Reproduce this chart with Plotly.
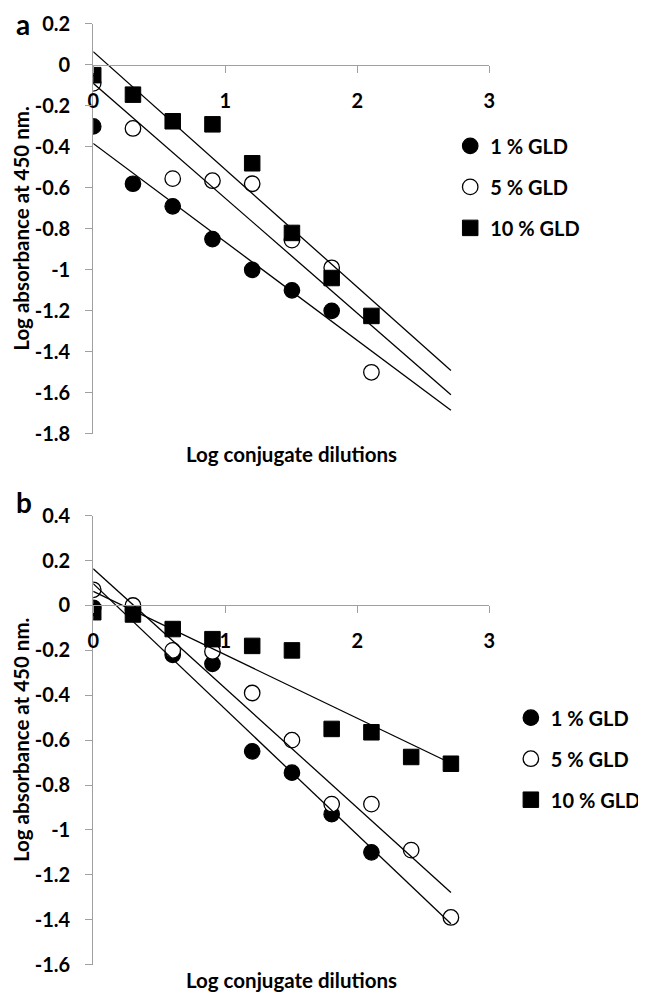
import numpy as np
import plotly.graph_objects as go

# ---------------- data ----------------
dilution_log = [0.0, 0.301, 0.602, 0.903, 1.204, 1.505, 1.806, 2.107, 2.408, 2.709]
series_names = ["1 % GLD", "5 % GLD", "10 % GLD"]

# panel a
a_gld1 = [-0.30, -0.58, -0.69, -0.85, -1.00, -1.10, -1.20]
a_gld5 = [-0.09, -0.31, -0.555, -0.565, -0.58, -0.855, -0.99, -1.50]
a_gld10 = [-0.05, -0.145, -0.275, -0.29, -0.48, -0.82, -1.04, -1.225]

# panel b
b_gld1 = [-0.01, -0.02, -0.22, -0.26, -0.65, -0.745, -0.93, -1.10]
b_gld5 = [0.07, 0.0, -0.20, -0.205, -0.39, -0.60, -0.885, -0.885, -1.09, -1.39]
b_gld10 = [-0.03, -0.04, -0.105, -0.15, -0.18, -0.20, -0.55, -0.565, -0.675, -0.705]

x_tickvals = [0, 1, 2, 3]
x_ticktext = ["0", "1", "2", "3"]
ya_tickvals = [0.2, 0, -0.2, -0.4, -0.6, -0.8, -1, -1.2, -1.4, -1.6, -1.8]
ya_ticktext = ["0.2", "0", "-0.2", "-0.4", "-0.6", "-0.8", "-1", "-1.2", "-1.4", "-1.6", "-1.8"]
yb_tickvals = [0.4, 0.2, 0, -0.2, -0.4, -0.6, -0.8, -1, -1.2, -1.4, -1.6]
yb_ticktext = ["0.4", "0.2", "0", "-0.2", "-0.4", "-0.6", "-0.8", "-1", "-1.2", "-1.4", "-1.6"]

x_title = "Log conjugate dilutions"
y_title = "Log absorbance at 450 nm."

# ---------------- layout helpers ----------------
WIN_W, WIN_H = 646, 1007
OFF = 8                      # default page body margin
W, H = WIN_W - OFF, WIN_H - 2 * OFF
FONT = "Lato"
GRAY = "#a0a0a0"


def fx(px):
    return (px - OFF) / W


def fy(py):
    return 1 - (py - OFF) / H


marker_styles = [
    dict(symbol="circle", size=15.5, color="black", line=dict(color="black", width=1.2)),
    dict(symbol="circle", size=15.5, color="white", line=dict(color="black", width=1.3)),
    dict(symbol="square", size=15.5, color="black", line=dict(color="black", width=1)),
]

fig = go.Figure()

panels = [
    dict(series=[a_gld1, a_gld5, a_gld10], xa="x", ya="y", legend="legend"),
    dict(series=[b_gld1, b_gld5, b_gld10], xa="x2", ya="y2", legend="legend2"),
]

for p in panels:
    for name, vals, ms in zip(series_names, p["series"], marker_styles):
        xs = dilution_log[: len(vals)]
        fig.add_trace(go.Scatter(
            x=xs, y=vals, mode="markers", name=name, marker=ms,
            xaxis=p["xa"], yaxis=p["ya"], legend=p["legend"],
            legendgroup=p["legend"] + name, showlegend=True,
        ))
    # linear trendlines (least squares), drawn on top like Excel
    for name, vals in zip(series_names, p["series"]):
        xs = dilution_log[: len(vals)]
        slope, icpt = np.polyfit(xs, vals, 1)
        tx = [dilution_log[0], dilution_log[-1]]
        fig.add_trace(go.Scatter(
            x=tx, y=[icpt + slope * t for t in tx], mode="lines",
            line=dict(color="black", width=1.3), showlegend=False,
            xaxis=p["xa"], yaxis=p["ya"], hoverinfo="skip",
        ))

# axis geometry (pixels from reference)
X0, X3 = 89, 494
A_TOP, A_BOT = 11, 431
B_TOP, B_BOT = 515, 975

ya_range = [-1.8, 0.2]
yb_range = [-1.6, 0.4]
ya_dom = [fy(A_BOT), fy(A_TOP)]
yb_dom = [fy(B_BOT), fy(B_TOP)]
pos_a = ya_dom[0] + (0 - ya_range[0]) / (ya_range[1] - ya_range[0]) * (ya_dom[1] - ya_dom[0])
pos_b = yb_dom[0] + (0 - yb_range[0]) / (yb_range[1] - yb_range[0]) * (yb_dom[1] - yb_dom[0])

tick_font = dict(family=FONT, size=20, color="black", weight="bold")

common_x = dict(range=[0, 3], tickvals=x_tickvals, ticktext=x_ticktext, showline=True,
                linecolor=GRAY, linewidth=1, ticks="outside", ticklen=7, tickcolor=GRAY,
                showgrid=False, zeroline=False, tickfont=tick_font, ticklabelstandoff=11,
                domain=[fx(X0), fx(X3)], anchor="free")
common_y = dict(showline=True, linecolor=GRAY, linewidth=1, ticks="outside", ticklen=7,
                tickcolor=GRAY, showgrid=False, zeroline=False, tickfont=tick_font,
                ticklabelstandoff=11)

legend_font = dict(family=FONT, size=20, color="black", weight="bold")

fig.update_layout(
    width=W, height=H,
    margin=dict(l=0, r=0, t=0, b=0),
    paper_bgcolor="white", plot_bgcolor="white",
    font=dict(family=FONT, color="black"),
    xaxis=dict(**common_x, position=pos_a),
    yaxis=dict(**common_y, range=ya_range, tickvals=ya_tickvals, ticktext=ya_ticktext,
               domain=ya_dom, anchor="x"),
    xaxis2=dict(**common_x, position=pos_b),
    yaxis2=dict(**common_y, range=yb_range, tickvals=yb_tickvals, ticktext=yb_ticktext,
                domain=yb_dom, anchor="x2"),
    legend=dict(x=fx(454), y=fy(116), xanchor="left", yanchor="top", font=legend_font,
                bgcolor="rgba(0,0,0,0)", tracegroupgap=12, itemsizing="trace"),
    legend2=dict(x=fx(516), y=fy(702), xanchor="left", yanchor="top", font=legend_font,
                 bgcolor="rgba(0,0,0,0)", tracegroupgap=12, itemsizing="trace"),
    showlegend=True,
)

title_font = dict(family=FONT, size=20.5, color="black", weight="bold")
letter_font = dict(family=FONT, size=28, color="black", weight="bold")
annotations = [
    dict(text=y_title, x=fx(15), y=fy((A_TOP + A_BOT) / 2), textangle=-90, font=title_font),
    dict(text=y_title, x=fx(15), y=fy((B_TOP + B_BOT) / 2), textangle=-90, font=title_font),
    dict(text=x_title, x=fx((X0 + X3) / 2), y=fy(452), font=title_font),
    dict(text=x_title, x=fx((X0 + X3) / 2), y=fy(991), font=title_font),
    dict(text="a", x=fx(17), y=fy(11), font=letter_font),
    dict(text="b", x=fx(18), y=fy(501), font=letter_font),
]
for a in annotations:
    a.update(xref="paper", yref="paper", showarrow=False, xanchor="center", yanchor="middle")
fig.update_layout(annotations=annotations)

fig.write_html("out.html")
